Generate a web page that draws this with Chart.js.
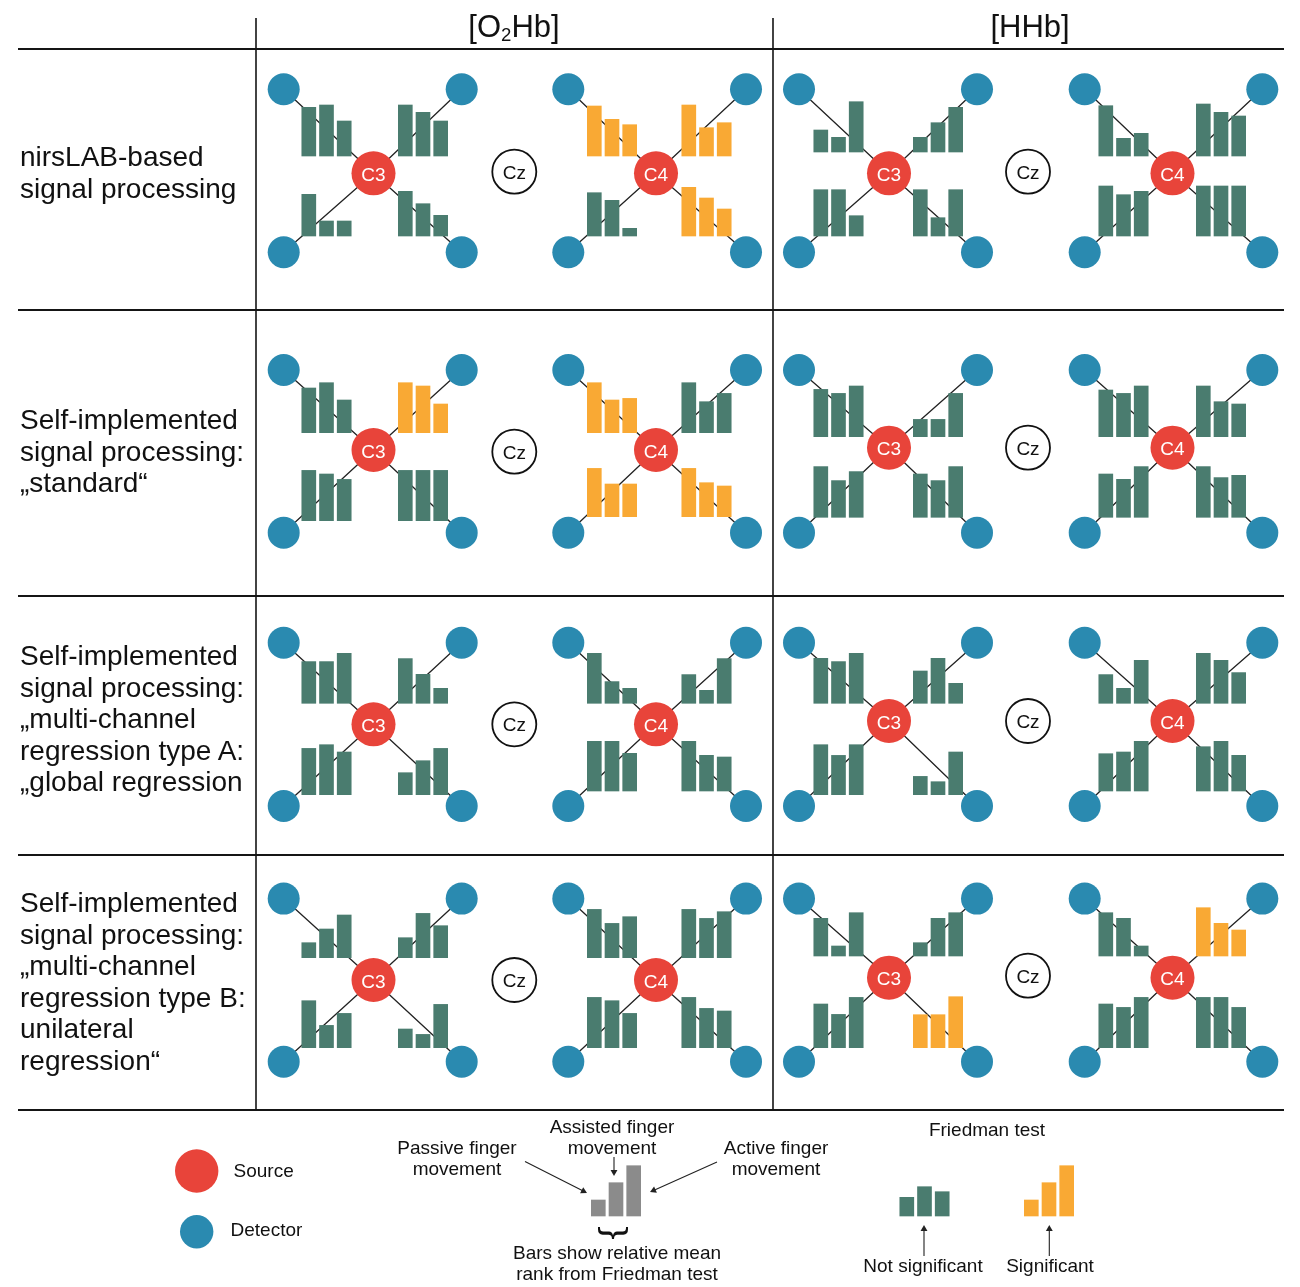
<!DOCTYPE html>
<html>
<head>
<meta charset="utf-8">
<script src="https://cdn.jsdelivr.net/npm/chart.js@4.4.1/dist/chart.umd.min.js"></script>
<style>
html,body{margin:0;padding:0;background:#fff;}
#wrap{position:relative;width:1300px;height:1287px;overflow:hidden;font-family:"Liberation Sans",Arial,Helvetica,sans-serif;color:#111;}
#c{position:absolute;left:0;top:0;}
.t{position:absolute;white-space:nowrap;z-index:2;}
</style>
</head>
<body>
<div id="wrap"><canvas id="c" width="1300" height="1287"></canvas></div>
<script>
// ================= DATA =================
const chromophores = ['O2Hb', 'HHb'];
const hemispheres = ['C3', 'C4'];
const conditions = ['Passive finger movement', 'Assisted finger movement', 'Active finger movement'];
const channels = ['upper-left', 'upper-right', 'lower-left', 'lower-right'];
const methodLabels = [
  ['nirsLAB-based', 'signal processing'],
  ['Self-implemented', 'signal processing:', '„standard“'],
  ['Self-implemented', 'signal processing:', '„multi-channel', 'regression type A:', '„global regression'],
  ['Self-implemented', 'signal processing:', '„multi-channel', 'regression type B:', 'unilateral', 'regression“']
];

// relative mean rank (bar height) per method -> channel -> [passive, assisted, active]
const O2Hb_C3 = [
  [[48.7, 51, 35], [51, 43.7, 35], [41.7, 15, 15], [44.7, 32.3, 20.7]],
  [[44.7, 50, 32.7], [50, 46.7, 28.7], [50.3, 46.7, 41.3], [50.3, 50.3, 50.3]],
  [[41.7, 41.7, 50], [44.7, 29, 15], [46.3, 50, 42.7], [22, 34, 46.3]],
  [[15, 28.7, 42.7], [20, 44.3, 32], [47, 22.3, 34.3], [18.7, 13.3, 43.3]]
];
const O2Hb_C4 = [
  [[50, 36.7, 31.3], [51, 28.3, 33.3], [43.3, 35.7, 7.7], [48.7, 38, 27]],
  [[50, 32.7, 34.3], [50, 31, 39.3], [48.3, 32.7, 32.7], [48.3, 34, 30.7]],
  [[50, 21.7, 15], [28.7, 13, 44.7], [49.7, 49.7, 37.7], [49.7, 35.7, 34]],
  [[48.3, 34.3, 41], [48.3, 39.3, 46], [50.3, 47, 34.3], [50.3, 39.3, 36.7]]
];
const HHb_C3 = [
  [[22, 14.7, 50.3], [14.7, 29.3, 44.7], [46.3, 46.3, 20.3], [46.3, 18.3, 46.3]],
  [[47.3, 43.3, 50.7], [17.3, 17.3, 43.3], [50.7, 36.7, 45.7], [43.3, 36.7, 50.7]],
  [[45, 41.7, 50], [32.3, 45, 20], [50, 39.3, 50], [18.3, 13, 42.7]],
  [[37.7, 10, 43.3], [13.3, 37.7, 43.3], [43.7, 33.3, 50.3], [33, 33, 51]]
];
const HHb_C4 = [
  [[50.3, 17.7, 22.7], [52, 43.7, 40], [50, 41.3, 44.7], [50, 50, 50]],
  [[46.7, 43.3, 50.7], [50.7, 35, 32.7], [43.3, 38, 50.7], [50.7, 39.7, 42]],
  [[28.7, 15, 43], [50, 43, 30.7], [37.3, 39, 49.7], [44.3, 49.7, 35.7]],
  [[43.3, 37.7, 10], [48.3, 32.7, 26], [43.7, 40.3, 50.3], [50.3, 50.3, 40.3]]
];
// Friedman test significant (1) or not (0), per method -> channel
const sig_O2Hb_C3 = [[0, 0, 0, 0], [0, 1, 0, 0], [0, 0, 0, 0], [0, 0, 0, 0]];
const sig_O2Hb_C4 = [[1, 1, 0, 1], [1, 0, 1, 1], [0, 0, 0, 0], [0, 0, 0, 0]];
const sig_HHb_C3  = [[0, 0, 0, 0], [0, 0, 0, 0], [0, 0, 0, 0], [0, 0, 0, 1]];
const sig_HHb_C4  = [[0, 0, 0, 0], [0, 0, 0, 0], [0, 0, 0, 0], [0, 1, 0, 0]];
// legend example bars
const legendExample = [16, 33.3, 50.3];
const legendNotSig = [18.7, 29.3, 24.3];
const legendSig = [16, 33.3, 50.3];

// ================= LAYOUT / STYLE =================
const GREEN = '#4a7c6f', ORANGE = '#f9a934', GRAY = '#8b8b8b', RED = '#e8443a', BLUE = '#2a8ab0', INK = '#151515';
const L = {
  W: 1300, H: 1287,
  hLines: [49, 310, 596, 855, 1110], hX0: 18, hX1: 1284,
  vLines: [256, 773], vY0: 18, vY1: 1110,
  barW: 14, pitch: 17.7, detR: 16, srcR: 22, czR: 22
};
const montX = [
  [{dl: 283.7, dr: 461.7, src: 373.5, gl: 326.5, gr: 423}, {dl: 568.3, dr: 746, src: 656, gl: 612, gr: 706.5}],
  [{dl: 799, dr: 977, src: 889, gl: 838.5, gr: 938}, {dl: 1084.7, dr: 1262.3, src: 1172.5, gl: 1123.5, gr: 1221}]
];
const czX = [514.3, 1028];
const rowY = [
  {dt: 89.3, db: 252.3, src: [173.3, 173.3], cz: [171.7, 171.7], base: [[156, 236], [156, 236], [152, 236], [156, 236]]},
  {dt: 370, db: 532.7, src: [450, 447.7], cz: [451.7, 447.7], base: [[432.7, 520.7], [432.7, 516.7], [436.7, 517.3], [436.7, 517.3]]},
  {dt: 642.7, db: 806, src: [724.3, 721], cz: [724.3, 721], base: [[703.3, 794.7], [703.3, 791], [703.3, 794.7], [703.3, 791]]},
  {dt: 898.6, db: 1061.7, src: [980, 977.7], cz: [980, 975.7], base: [[957.7, 1047.7], [957.7, 1047.7], [956, 1047.7], [956, 1047.7]]}
];
const labelY0 = [157, 420, 656, 903], labelGap = 31.6;

const values = [[O2Hb_C3, O2Hb_C4], [HHb_C3, HHb_C4]];
const sigs = [[sig_O2Hb_C3, sig_O2Hb_C4], [sig_HHb_C3, sig_HHb_C4]];

// ================= BUILD MARKS =================
const barPts = [], barCols = [];
function addGroup(cx, base, vals, col) {
  vals.forEach((v, j) => {
    barPts.push({x: cx + (j - 1) * L.pitch, y: [base, base - v]});
    barCols.push(col);
  });
}
const GAP = {x: null, y: null};
const tableH = [], tableV = [], montLines = [], detPts = [], srcPts = [], czPts = [];
L.hLines.forEach(y => { tableH.push({x: L.hX0, y}, {x: L.hX1, y}, GAP); });
L.vLines.forEach(x => { tableV.push({x, y: L.vY0}, {x, y: L.vY1}, GAP); });

const wrap = document.getElementById('wrap');
function text(str, x, y, size, align, color, html) {
  const d = document.createElement('div');
  d.className = 't';
  d.style.fontSize = size + 'px';
  d.style.lineHeight = Math.round(size * 1.2) + 'px';
  d.style.left = x + 'px';
  d.style.top = y + 'px';
  d.style.color = color || '#111';
  d.style.transform = align === 'left' ? 'translate(0,-50%)' : 'translate(-50%,-50%)';
  if (html) d.innerHTML = str; else d.textContent = str;
  wrap.appendChild(d);
  return d;
}

rowY.forEach((ry, r) => {
  for (let c = 0; c < 2; c++) {
    for (let h = 0; h < 2; h++) {
      const m = montX[c][h];
      const [bt, bb] = ry.base[c * 2 + h];
      const src = {x: m.src, y: ry.src[c]};
      const dets = [{x: m.dl, y: ry.dt}, {x: m.dr, y: ry.dt}, {x: m.dl, y: ry.db}, {x: m.dr, y: ry.db}];
      dets.forEach((d, k) => {
        detPts.push(d);
        montLines.push(d, src, GAP);
        const gx = (k % 2 === 0) ? m.gl : m.gr;
        const base = k < 2 ? bt : bb;
        addGroup(gx, base, values[c][h][r][k], sigs[c][h][r][k] ? ORANGE : GREEN);
      });
      srcPts.push(src);
      text(hemispheres[h], src.x, src.y + 0.5, 19, 'center', '#fff');
    }
    czPts.push({x: czX[c], y: ry.cz[c]});
    text('Cz', czX[c], ry.cz[c], 19, 'center', '#111');
  }
  methodLabels[r].forEach((ln, i) => text(ln, 20, labelY0[r] + i * labelGap, 28, 'left'));
});

// legend bars
addGroup(616, 1216, legendExample, GRAY);
addGroup(924.5, 1216, legendNotSig, GREEN);
addGroup(1049, 1216, legendSig, ORANGE);

// legend arrows
const arrows = [
  [[525, 1161.5], [587, 1193]],
  [[614, 1157], [614, 1176]],
  [[717, 1162], [650, 1192]],
  [[924, 1256], [924, 1225]],
  [[1049.3, 1256], [1049.3, 1225]]
];
const arrowLines = [], arrowHeads = [], arrowRot = [];
const AH = 4;
arrows.forEach(([a, b]) => {
  const dx = b[0] - a[0], dy = b[1] - a[1], len = Math.hypot(dx, dy);
  const ux = dx / len, uy = dy / len;
  arrowLines.push({x: a[0], y: a[1]}, {x: b[0] - ux * 2, y: b[1] - uy * 2}, GAP);
  arrowHeads.push({x: b[0] - ux * AH, y: b[1] - uy * AH});
  arrowRot.push(Math.atan2(dx, -dy) * 180 / Math.PI);
});

// ================= TEXT =================
text('[O<span style="font-size:0.6em;line-height:0;position:relative;top:0.22em">2</span>Hb]', 514, 26, 31, 'center', '#111', true);
text('[HHb]', 1030, 26, 31, 'center');
text('Source', 233.5, 1170, 19, 'left');
text('Detector', 230.5, 1229, 19, 'left');
text('Passive finger', 457, 1147, 19);
text('movement', 457, 1168, 19);
text('Assisted finger', 612, 1126, 19);
text('movement', 612, 1147, 19);
text('Active finger', 776, 1147, 19);
text('movement', 776, 1168, 19);
text('Bars show relative mean', 617, 1252, 19);
text('rank from Friedman test', 617, 1273, 19);
text('Friedman test', 987, 1129, 19);
text('Not significant', 923, 1265, 19);
text('Significant', 1050, 1265, 19);
const brace = text('}', 616, 1233, 40);
brace.style.transform = 'translate(-50%,-50%) rotate(90deg) scale(1,0.8)';
brace.style.lineHeight = '40px';

// ================= CHART =================
const lineDS = (data, color, width, order) => ({
  type: 'line', data, borderColor: color, borderWidth: width, pointRadius: 0,
  showLine: true, spanGaps: false, fill: false, order, tension: 0
});
const dotDS = (data, radius, fillC, order, borderC, borderW) => ({
  type: 'scatter', data, pointRadius: radius, pointHoverRadius: radius,
  pointBackgroundColor: fillC, pointBorderColor: borderC || fillC,
  pointBorderWidth: borderW || 0, showLine: false, order
});

new Chart(document.getElementById('c'), {
  type: 'scatter',
  data: {
    datasets: [
      lineDS(tableH, INK, 2, 20),
      lineDS(tableV, INK, 1.6, 19),
      lineDS(montLines, '#222', 1.3, 18),
      {type: 'bar', data: barPts, backgroundColor: barCols, barThickness: L.barW,
       borderWidth: 0, order: 10, grouped: true},
      lineDS(arrowLines, '#222', 1.1, 8),
      {type: 'scatter', data: arrowHeads, pointStyle: 'triangle', pointRadius: AH,
       pointRotation: arrowRot, pointBackgroundColor: '#222', pointBorderWidth: 0, showLine: false, order: 7},
      dotDS(detPts, L.detR, BLUE, 3),
      dotDS(srcPts, L.srcR, RED, 2),
      dotDS(czPts, L.czR, '#ffffff', 1, '#111', 1.8),
      dotDS([{x: 196.7, y: 1171}], 21.7, RED, 2),
      dotDS([{x: 196.7, y: 1231.7}], 16.7, BLUE, 2)
    ]
  },
  options: {
    responsive: false,
    devicePixelRatio: 1,
    animation: false,
    events: [],
    layout: {padding: 0, autoPadding: false},
    plugins: {legend: {display: false}, tooltip: {enabled: false}},
    scales: {
      x: {type: 'linear', min: 0, max: L.W, display: false, offset: false, bounds: 'data'},
      y: {type: 'linear', min: 0, max: L.H, reverse: true, display: false, offset: false, bounds: 'data'}
    }
  }
});
</script>
</body>
</html>
